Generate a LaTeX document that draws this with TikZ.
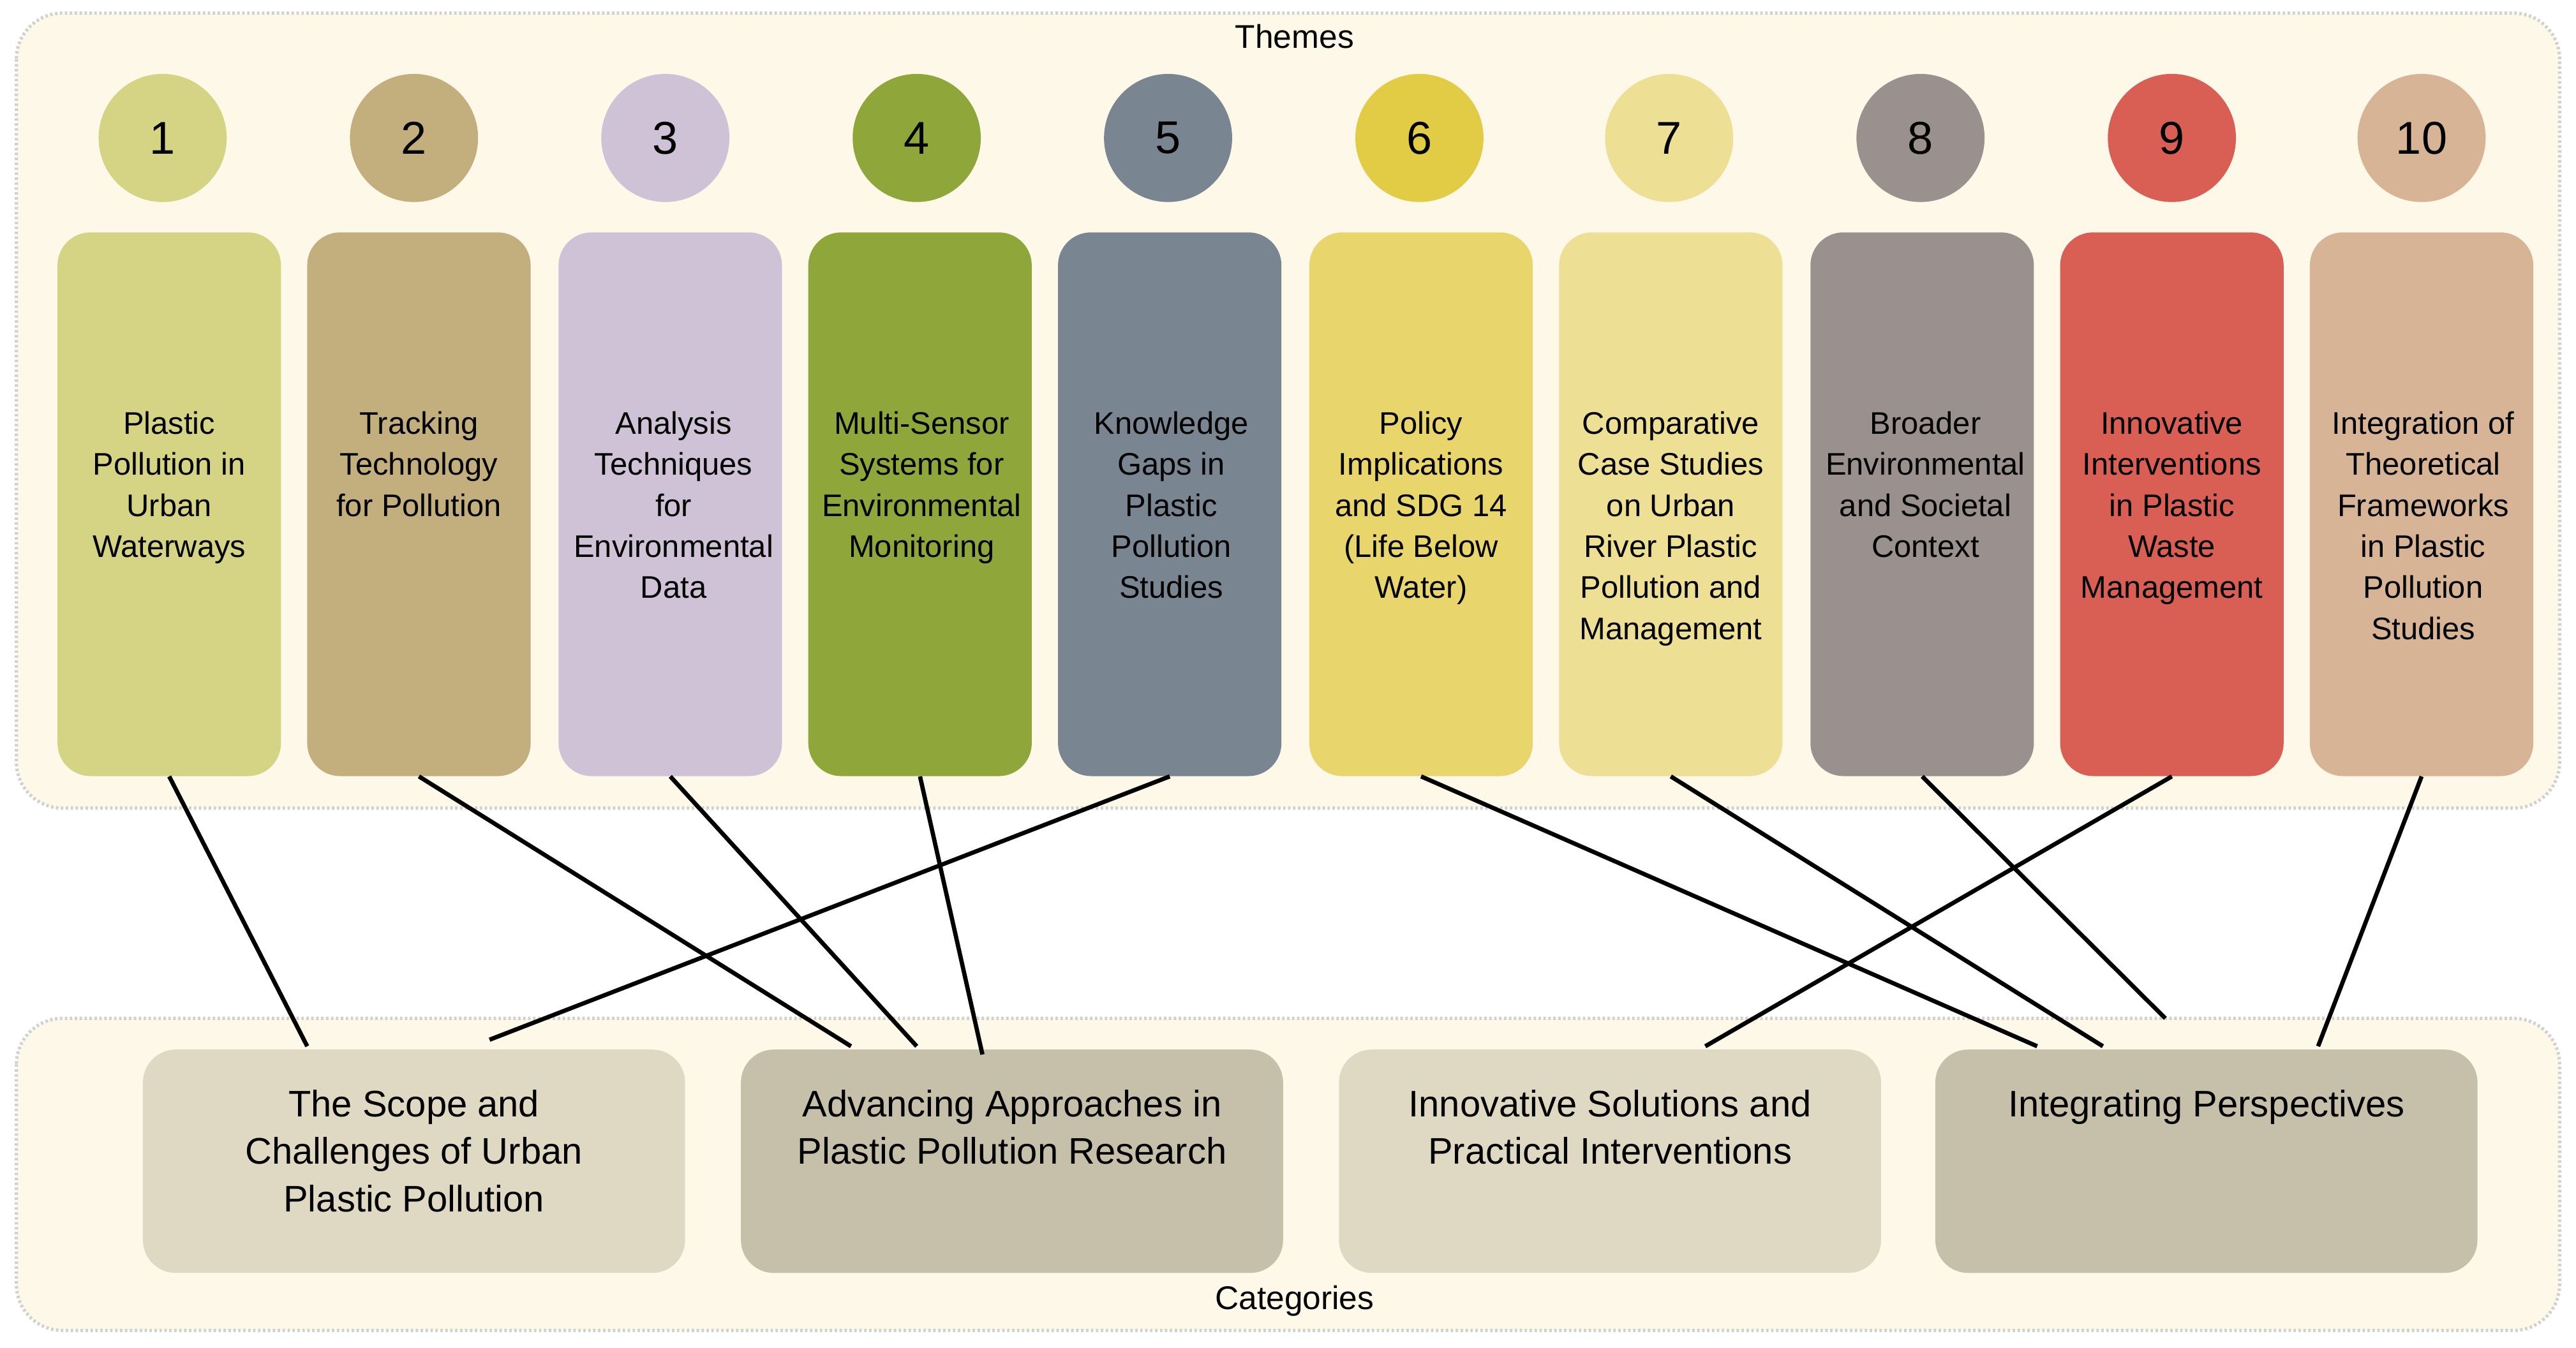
\documentclass[tikz,border=0pt]{standalone}
\usepackage{fontspec}
\setmainfont{Liberation Sans}
\begin{document}
\begin{tikzpicture}[x=1pt,y=-1pt,
 panel/.style={draw=black!18,line width=2pt,dash pattern=on 1.5pt off 1.5pt,fill=cream,rounded corners=28pt},
 num/.style={circle,minimum width=78pt,inner sep=0pt,font=\fontsize{28}{30}\selectfont},
 theme/.style={rounded corners=20pt,minimum width=136pt,minimum height=331pt,inner sep=0pt},
 ttext/.style={anchor=north,align=center,font=\fontsize{19}{25}\selectfont},
 cat/.style={rounded corners=20pt,minimum width=330pt,minimum height=136pt,inner sep=0pt},
 ctext/.style={anchor=north,align=center,font=\fontsize{22.5}{29}\selectfont},
 link/.style={line width=2.6pt,black}]
\definecolor{cream}{HTML}{FDF8E8}
\definecolor{c1}{HTML}{D5D485}\definecolor{c2}{HTML}{C3AE7E}\definecolor{c3}{HTML}{D0C2D6}
\definecolor{c4}{HTML}{8FA63B}\definecolor{c5}{HTML}{798692}\definecolor{c6}{HTML}{E8D56C}
\definecolor{c6b}{HTML}{E2CC45}\definecolor{c7}{HTML}{EDDF94}\definecolor{c8}{HTML}{9A918E}
\definecolor{c9}{HTML}{D95F55}\definecolor{c10}{HTML}{D8B497}
\definecolor{ka}{HTML}{DFD8C3}\definecolor{kb}{HTML}{C6C0AB}
\useasboundingbox (0,0) rectangle (1568,820.6);
\path[panel] (10,8) rectangle (1558,492);
\path[panel] (10,620) rectangle (1558,810);
\node[font=\fontsize{20}{24}\selectfont] (themes) at (788,22) {Themes};
\node[font=\fontsize{20}{24}\selectfont] (cats) at (788,792) {Categories};
% circles
\foreach \i/\x/\c in {1/99/c1,2/252/c2,3/405/c3,4/558/c4,5/711/c5,6/864/c6b,7/1016/c7,8/1169/c8,9/1322/c9,10/1474/c10}
  \node[num,fill=\c] (n\i) at (\x,84) {\i};
% theme boxes
\foreach \i/\x/\c in {1/103/c1,2/255/c2,3/408/c3,4/560/c4,5/712/c5,6/865/c6,7/1017/c7,8/1170/c8,9/1322/c9,10/1474/c10}
  \node[theme,fill=\c] (t\i) at (\x,307) {};
\node[ttext] (l1) at (103,247) {Plastic\\Pollution in\\Urban\\Waterways};
\node[ttext] (l2) at (255,247) {Tracking\\Technology\\for Pollution};
\node[ttext] (l3) at (410,247) {Analysis\\Techniques\\for\\Environmental\\Data};
\node[ttext] (l4) at (561,247) {Multi-Sensor\\Systems for\\Environmental\\Monitoring};
\node[ttext] (l5) at (713,247) {Knowledge\\Gaps in\\Plastic\\Pollution\\Studies};
\node[ttext] (l6) at (865,247) {Policy\\Implications\\and SDG 14\\(Life Below\\Water)};
\node[ttext] (l7) at (1017,247) {Comparative\\Case Studies\\on Urban\\River Plastic\\Pollution and\\Management};
\node[ttext] (l8) at (1172,247) {Broader\\Environmental\\and Societal\\Context};
\node[ttext] (l9) at (1322,247) {Innovative\\Interventions\\in Plastic\\Waste\\Management};
\node[ttext] (l10) at (1475,247) {Integration of\\Theoretical\\Frameworks\\in Plastic\\Pollution\\Studies};
% category boxes
\node[cat,fill=ka] (k1) at (252,707) {};
\node[cat,fill=kb] (k2) at (616,707) {};
\node[cat,fill=ka] (k3) at (980,707) {};
\node[cat,fill=kb] (k4) at (1343,707) {};
\node[ctext] (m1) at (252,660) {The Scope and\\Challenges of Urban\\Plastic Pollution};
\node[ctext] (m2) at (616,660) {Advancing Approaches in\\Plastic Pollution Research};
\node[ctext] (m3) at (980,660) {Innovative Solutions and\\Practical Interventions};
\node[ctext] (m4) at (1343,660) {Integrating Perspectives};
% free ends
\coordinate (e1) at (187,637);
\coordinate (e2) at (518,637);
\coordinate (e3) at (558,637);
\coordinate (e4) at (598,642);
\coordinate (e5) at (298,633);
\coordinate (e6) at (1240,637);
\coordinate (e7) at (1280,637);
\coordinate (e8) at (1318,620);
\coordinate (e9) at (1038,637);
\coordinate (e10) at (1411,637);
\foreach \i in {1,...,10} \draw[link] (t\i.south) -- (e\i);
\end{tikzpicture}
\end{document}
